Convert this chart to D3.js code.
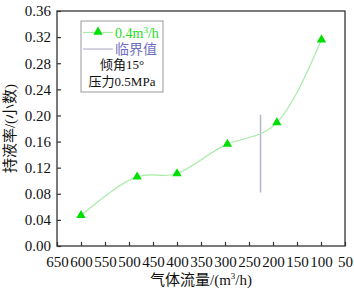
<!DOCTYPE html>
<html>
<head>
<meta charset="utf-8">
<script src="https://cdn.jsdelivr.net/npm/d3@7"></script>
<style>
  body { margin: 0; background: #fff; }
  text { font-family: 'Liberation Serif', 'Noto Sans CJK SC', serif; }
</style>
</head>
<body>
<div class="graph"><svg></svg></div>
<script>
// data
const gasFlow = [600, 483, 400, 295, 192, 99]
const holdup = [0.047, 0.106, 0.111, 0.156, 0.189, 0.316]
const criticalFlow = 226
const criticalRange = [0.082, 0.201]
const xTicks = [650, 600, 550, 500, 450, 400, 350, 300, 250, 200, 150, 100, 50]
const yTicks = [0, 0.04, 0.08, 0.12, 0.16, 0.20, 0.24, 0.28, 0.32, 0.36]

const width = 354
const height = 292
const margin = { top: 11, right: 9, bottom: 46, left: 57 }
const w = width - margin.left - margin.right
const h = height - margin.top - margin.bottom

const svg = d3.select('.graph').select('svg')
  .attr('width', width)
  .attr('height', height)

const g = svg.append('g')
  .attr('transform', 'translate(' + margin.left + ',' + margin.top + ')')

const xScale = d3.scaleLinear().domain([650, 50]).range([0, w])
const yScale = d3.scaleLinear().domain([0, 0.36]).range([h, 0])

// frame
g.append('rect')
  .attr('width', w)
  .attr('height', h)
  .attr('fill', 'none')
  .attr('stroke', '#333')
  .attr('stroke-width', 1.3)

// axes, ticks pointing inwards
const xAxis = g.append('g')
  .attr('class', 'x axis')
  .attr('transform', 'translate(0,' + h + ')')
  .call(d3.axisBottom(xScale).tickValues(xTicks).tickSize(-4).tickPadding(7)
    .tickFormat(d3.format('d')))

g.append('g')
  .attr('class', 'y axis')
  .call(d3.axisLeft(yScale).tickValues(yTicks).tickSize(-4).tickPadding(6)
    .tickFormat(d3.format('.2f')))

g.selectAll('.axis .domain').remove()
g.selectAll('.axis line').attr('stroke', '#333').attr('stroke-width', 1.2)
g.selectAll('.axis text')
  .attr('fill', '#111')
  .attr('font-size', 15)
  .attr('font-family', "'Liberation Serif', serif")
xAxis.selectAll('text').attr('dy', '0.9em')

// critical value line
g.append('line')
  .attr('x1', xScale(criticalFlow))
  .attr('x2', xScale(criticalFlow))
  .attr('y1', yScale(criticalRange[0]))
  .attr('y2', yScale(criticalRange[1]))
  .attr('stroke', '#b4b4cc')
  .attr('stroke-width', 1.5)

// holdup curve
const points = gasFlow.map((d, i) => [xScale(d), yScale(holdup[i])])
g.append('path')
  .attr('d', d3.line().curve(d3.curveNatural)(points))
  .attr('fill', 'none')
  .attr('stroke', '#a8eaa8')
  .attr('stroke-width', 1.2)

const tri = d3.symbol().type(d3.symbolTriangle).size(38)
g.selectAll('.marker')
  .data(points)
  .join('path')
  .attr('class', 'marker')
  .attr('d', tri)
  .attr('transform', d => 'translate(' + d[0] + ',' + d[1] + ')')
  .attr('fill', '#00e000')

// legend
const lg = svg.append('g').attr('transform', 'translate(81,21)')
lg.append('rect')
  .attr('width', 82)
  .attr('height', 71)
  .attr('fill', '#fff')
  .attr('stroke', '#999')
  .attr('stroke-width', 1)
lg.append('line')
  .attr('x1', 2).attr('x2', 32).attr('y1', 11.5).attr('y2', 11.5)
  .attr('stroke', '#a8eaa8').attr('stroke-width', 1.2)
lg.append('path')
  .attr('d', tri)
  .attr('transform', 'translate(17,11)')
  .attr('fill', '#00e000')
lg.append('text')
  .attr('x', 34).attr('y', 16.5)
  .attr('fill', '#22dd22')
  .attr('font-size', 14)
  .html('0.4m<tspan font-size="9" dy="-5">3</tspan><tspan dy="5">/h</tspan>')
lg.append('line')
  .attr('x1', 2).attr('x2', 32).attr('y1', 28).attr('y2', 28)
  .attr('stroke', '#b4b4cc').attr('stroke-width', 1.2)
lg.append('text')
  .attr('x', 34).attr('y', 33)
  .attr('fill', '#7070c0')
  .attr('font-size', 14)
  .text('临界值')
lg.append('text')
  .attr('x', 41).attr('y', 47.5)
  .attr('text-anchor', 'middle')
  .attr('fill', '#111')
  .attr('font-size', 13)
  .text('倾角15°')
lg.append('text')
  .attr('x', 41).attr('y', 65)
  .attr('text-anchor', 'middle')
  .attr('fill', '#111')
  .attr('font-size', 13)
  .text('压力0.5MPa')

// axis titles
svg.append('text')
  .attr('x', margin.left + w / 2)
  .attr('y', 285)
  .attr('text-anchor', 'middle')
  .attr('fill', '#111')
  .attr('font-size', 15)
  .html('气体流量/(m<tspan font-size="9" dy="-6">3</tspan><tspan dy="6">/h)</tspan>')

svg.append('text')
  .attr('transform', 'translate(15,' + (margin.top + h / 2) + ') rotate(-90)')
  .attr('text-anchor', 'middle')
  .attr('fill', '#111')
  .attr('font-size', 15)
  .text('持液率/(小数)')
</script>
</body>
</html>
